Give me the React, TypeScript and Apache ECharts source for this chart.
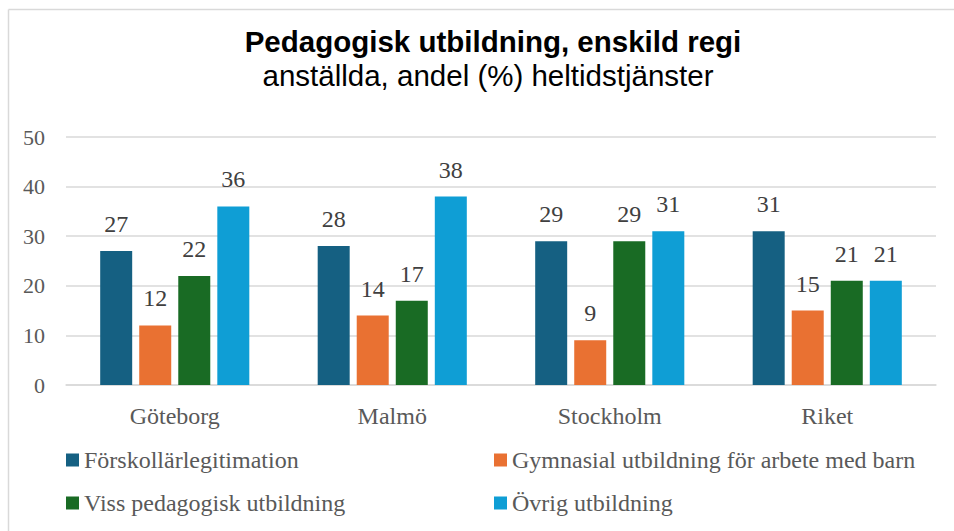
import React, { useEffect, useRef } from "react";
import * as echarts from "echarts";

const categories = ["Göteborg", "Malmö", "Stockholm", "Riket"];
const seriesNames = [
  "Förskollärlegitimation",
  "Gymnasial utbildning för arbete med barn",
  "Viss pedagogisk utbildning",
  "Övrig utbildning",
];
const forskollarlegitimation = [27, 28, 29, 31];
const gymnasial = [12, 14, 9, 15];
const vissPedagogisk = [22, 17, 29, 21];
const ovrig = [36, 38, 31, 21];
const colors = ["#156082", "#E97132", "#196B24", "#0F9ED5"];
const titleText = "Pedagogisk utbildning, enskild regi";
const subtitleText = "anställda, andel (%) heltidstjänster";

const serif = "'Liberation Serif', 'Times New Roman', serif";
const sans = "'Liberation Sans', Arial, sans-serif";

export default function App() {
  const ref = useRef<HTMLDivElement>(null);
  useEffect(() => {
    if (!ref.current) return;
    const chart = echarts.init(ref.current, null, { renderer: "svg" });
    const values = [forskollarlegitimation, gymnasial, vissPedagogisk, ovrig];
    const legendPos = [
      { left: 61, top: 443 },
      { left: 489, top: 443 },
      { left: 61, top: 486 },
      { left: 489, top: 486 },
    ];
    chart.setOption({
      animation: false,
      backgroundColor: "#ffffff",
      graphic: [
        { type: "line", shape: { x1: 8.5, y1: 9.5, x2: 954, y2: 9.5 }, style: { stroke: "#d9d9d9", lineWidth: 1.5 } },
        { type: "line", shape: { x1: 8.5, y1: 9.5, x2: 8.5, y2: 531 }, style: { stroke: "#d9d9d9", lineWidth: 1.5 } },
        {
          type: "text",
          x: 493,
          y: 41,
          style: { text: titleText, font: `bold 29.5px ${sans}`, fill: "#000000", align: "center", verticalAlign: "middle" },
        },
        {
          type: "text",
          x: 488,
          y: 75,
          style: { text: subtitleText, font: `29.5px ${sans}`, fill: "#000000", align: "center", verticalAlign: "middle" },
        },
      ],
      legend: seriesNames.map((n, i) => ({
        data: [n],
        left: legendPos[i].left,
        top: legendPos[i].top,
        icon: "rect",
        itemWidth: 13,
        itemHeight: 13,
        textStyle: { fontFamily: serif, fontSize: 24, color: "#595959" },
      })),
      grid: { left: 66, right: 18, top: 137, bottom: 146 },
      xAxis: {
        type: "category",
        data: categories,
        axisLine: { lineStyle: { color: "#d9d9d9", width: 1.5 } },
        axisTick: { show: false },
        axisLabel: { fontFamily: serif, fontSize: 24, color: "#595959", margin: 19 },
      },
      yAxis: {
        type: "value",
        min: 0,
        max: 50,
        interval: 10,
        axisLine: { show: false },
        axisTick: { show: false },
        splitLine: { lineStyle: { color: "#d9d9d9", width: 1.5 } },
        axisLabel: { fontFamily: serif, fontSize: 22, color: "#595959", margin: 21 },
      },
      series: seriesNames.map((n, i) => ({
        name: n,
        type: "bar",
        data: values[i],
        barWidth: 32,
        barGap: "22%",
        itemStyle: { color: colors[i] },
        label: {
          show: true,
          position: "top",
          distance: 15,
          fontFamily: serif,
          fontSize: 24,
          color: "#404040",
        },
      })),
    });
    return () => chart.dispose();
  }, []);
  return (
    <div
      ref={ref}
      style={{ position: "fixed", left: 0, top: 0, width: 954, height: 531 }}
    />
  );
}
